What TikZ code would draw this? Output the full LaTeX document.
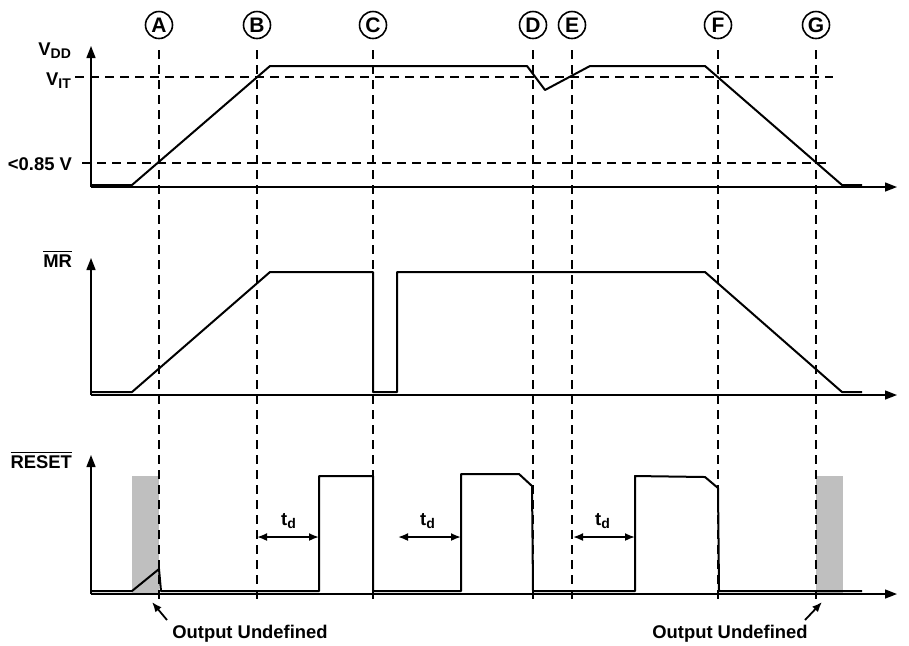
\documentclass[tikz,border=0pt]{standalone}
\usepackage{fontspec}
\setmainfont{Liberation Sans}
\usetikzlibrary{arrows.meta}

\tikzset{
  axis/.style={line width=0.7pt, -{Triangle[length=6pt,width=4.5pt]}},
  signal/.style={line width=1pt, line join=round},
  guide/.style={line width=1.4pt, dash pattern=on 4.5pt off 3pt},
  level/.style={line width=1.1pt, dash pattern=on 4.5pt off 3pt},
  event/.style={draw, circle, line width=0.8pt, minimum size=13.5pt, inner sep=0pt,
    font=\fontsize{10.5}{12}\selectfont\bfseries},
  span/.style={line width=0.9pt, {Latex[length=5pt,width=4pt]}-{Latex[length=5pt,width=4pt]}},
  pointer/.style={line width=0.9pt, -{Latex[length=5pt,width=4pt]}},
  undef/.style={fill=gray!50},
}

\begin{document}
\begin{tikzpicture}[x=0.5pt, y=-0.5pt, font=\fontsize{9.2}{11}\selectfont\bfseries]
  \useasboundingbox (0,0) rectangle (909,645);
  % output undefined windows
  \fill[undef] (132,476) rectangle (159,594);
  \fill[undef] (816,476) rectangle (843,594);
  % events A..G
  \foreach \ev/\x in {A/159, B/257, C/373, D/533, E/572, F/718, G/816} {
    \node[event] (ev\ev) at (\x,25) {\ev};
    \draw[guide] ([yshift=-5.5pt]ev\ev.south) -- ++(0,554);
  }
  % axes
  \foreach \y/\top in {187/46, 395/258, 594/455} {
    \draw[axis] (91,\y) -- (91,\top);
    \draw[axis] (91,\y) -- (897,\y);
  }
  % axis labels
  \node[anchor=base east] (vdd) at (79,55) {V$_{\mbox{\scriptsize DD}}$};
  \node[anchor=base east] (vit) at (79,85) {V$_{\mbox{\scriptsize IT}}$};
  \node[anchor=base east] (vlow) at (79,170) {<0.85 V};
  \node[anchor=base east] (mr) at (79,267) {$\overline{\mbox{MR}}$};
  \node[anchor=base east] (rst) at (79,468) {$\overline{\mbox{RESET}}$};
  % thresholds
  \draw[level] (75,77) -- (833,77);
  \draw[level] (82,163) -- (832,163);
  % V_DD
  \draw[signal] (91,185) -- (132,185) -- (270,66) -- (527,66) -- (545,90) -- (590,66)
    -- (705,66) -- (842,185) -- (862,185);
  % MR
  \draw[signal] (91,392) -- (132,392) -- (270,272) -- (373,272) -- (373,392) -- (397,392)
    -- (397,272) -- (705,272) -- (842,392) -- (862,392);
  % RESET
  \draw[signal] (91,591) -- (132,591) -- (159,569) -- (161,591) -- (319,591) -- (319,476)
    -- (373,476) -- (373,591) -- (461,591) -- (461,474) -- (519,474) -- (532,486)
    -- (533,591) -- (635,591) -- (635,476) -- (705,477) -- (718,488) -- (719,591)
    -- (862,591);
  % delay times
  \foreach \i/\a/\b/\lx in {1/257/319/289, 2/398/461/428, 3/573/635/603} {
    \coordinate (tdL\i) at (\a,537);
    \coordinate (tdR\i) at (\b,537);
    \draw[span] (tdL\i) -- (tdR\i);
    \node[anchor=base] (td\i) at (\lx,525) {t$_{\mbox{\scriptsize d}}$};
  }
  % undefined output notes
  \node[anchor=base] (undefA) at (250,638) {Output Undefined};
  \node[anchor=base] (undefG) at (730,638) {Output Undefined};
  \coordinate (undefAtail) at (167,620);
  \coordinate (undefAtip) at (152,602);
  \coordinate (undefGtail) at (805,620);
  \coordinate (undefGtip) at (822,602);
  \draw[pointer] (undefAtail) -- (undefAtip);
  \draw[pointer] (undefGtail) -- (undefGtip);
\end{tikzpicture}
\end{document}
